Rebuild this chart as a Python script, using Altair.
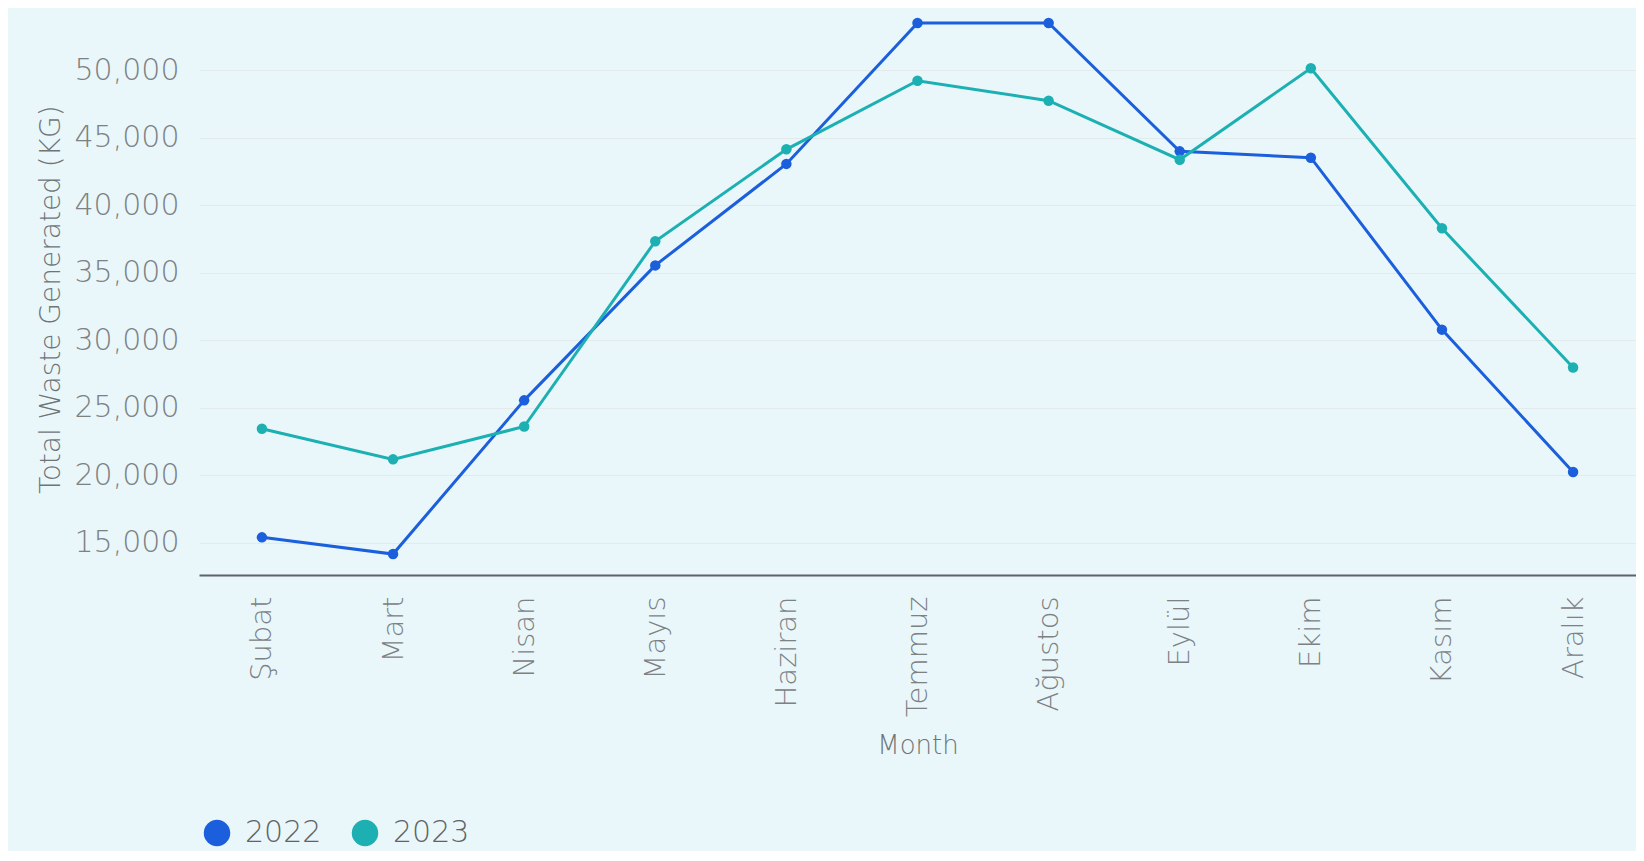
import altair as alt
import pandas as pd

months = ["Şubat", "Mart", "Nisan", "Mayıs", "Haziran", "Temmuz",
          "Ağustos", "Eylül", "Ekim", "Kasım", "Aralık"]
waste_2022 = [15390, 14150, 25540, 35540, 43060, 53500, 53500, 43990, 43520, 30780, 20230]
waste_2023 = [23440, 21170, 23600, 37330, 44140, 49220, 47740, 43370, 50150, 38290, 27980]
years = ["2022", "2023"]
colors = ["#1b5fdc", "#1cb0b3"]
y_ticks = [15000, 20000, 25000, 30000, 35000, 40000, 45000, 50000]

rows = []
for m, v in zip(months, waste_2022):
    rows.append({"Month": m, "Year": "2022", "Waste": v})
for m, v in zip(months, waste_2023):
    rows.append({"Month": m, "Year": "2023", "Waste": v})
df = pd.DataFrame(rows)

FONT = "DejaVu Sans"
LABEL_COLOR = "#7c8184"
TITLE_COLOR = "#6f7477"

x = alt.X("Month:N", sort=months, title="Month",
          scale=alt.Scale(type="point", padding=0.48),
          axis=alt.Axis(labelAngle=-90, labelFontSize=29, labelColor=LABEL_COLOR,
                        labelFont=FONT, labelFontWeight=200, labelPadding=21,
                        labelAlign="right", labelBaseline="middle",
                        titleFont=FONT, titleFontWeight=200, titleFontSize=26,
                        titleColor=TITLE_COLOR, titlePadding=16,
                        ticks=False, grid=False, domainColor="#5f6366", domainWidth=2))
y = alt.Y("Waste:Q", title="Total Waste Generated (KG)",
          scale=alt.Scale(domain=[12600, 53500], nice=False, zero=False),
          axis=alt.Axis(values=y_ticks, labelExpr="format(datum.value, ',')",
                        labelFontSize=30, labelColor=LABEL_COLOR,
                        labelFont=FONT, labelFontWeight=200, labelPadding=20,
                        titleFont=FONT, titleFontWeight=200, titleFontSize=28,
                        titleColor=TITLE_COLOR, titlePadding=9,
                        ticks=False, domain=False, gridColor="#e3eaec", gridWidth=1))
cscale = alt.Scale(domain=years, range=colors)
legend = alt.Legend(title=None, orient="none", legendX=3, legendY=795,
                    direction="horizontal", symbolType="circle",
                    symbolSize=700, symbolOpacity=1, symbolStrokeWidth=0,
                    labelFontSize=30, labelFont=FONT, labelFontWeight=200,
                    labelColor="#5f6366", columnPadding=28, labelOffset=13)

base = alt.Chart(df)
lines = base.mark_line(strokeWidth=3).encode(
    x=x, y=y, color=alt.Color("Year:N", scale=cscale, legend=legend))
points = base.mark_circle(size=110, opacity=1).encode(
    x=x, y=y, color=alt.Color("Year:N", scale=cscale, legend=legend))

chart = alt.layer(lines, points).properties(
    width=1437, height=552,
    background="#eaf7fa",
    padding={"left": 191, "top": 15, "right": 0, "bottom": 276},
    autosize=alt.AutoSizeParams(type="none"),
).configure_view(stroke=None)

chart.save("out.html", embed_options={"renderer": "svg", "actions": False})
